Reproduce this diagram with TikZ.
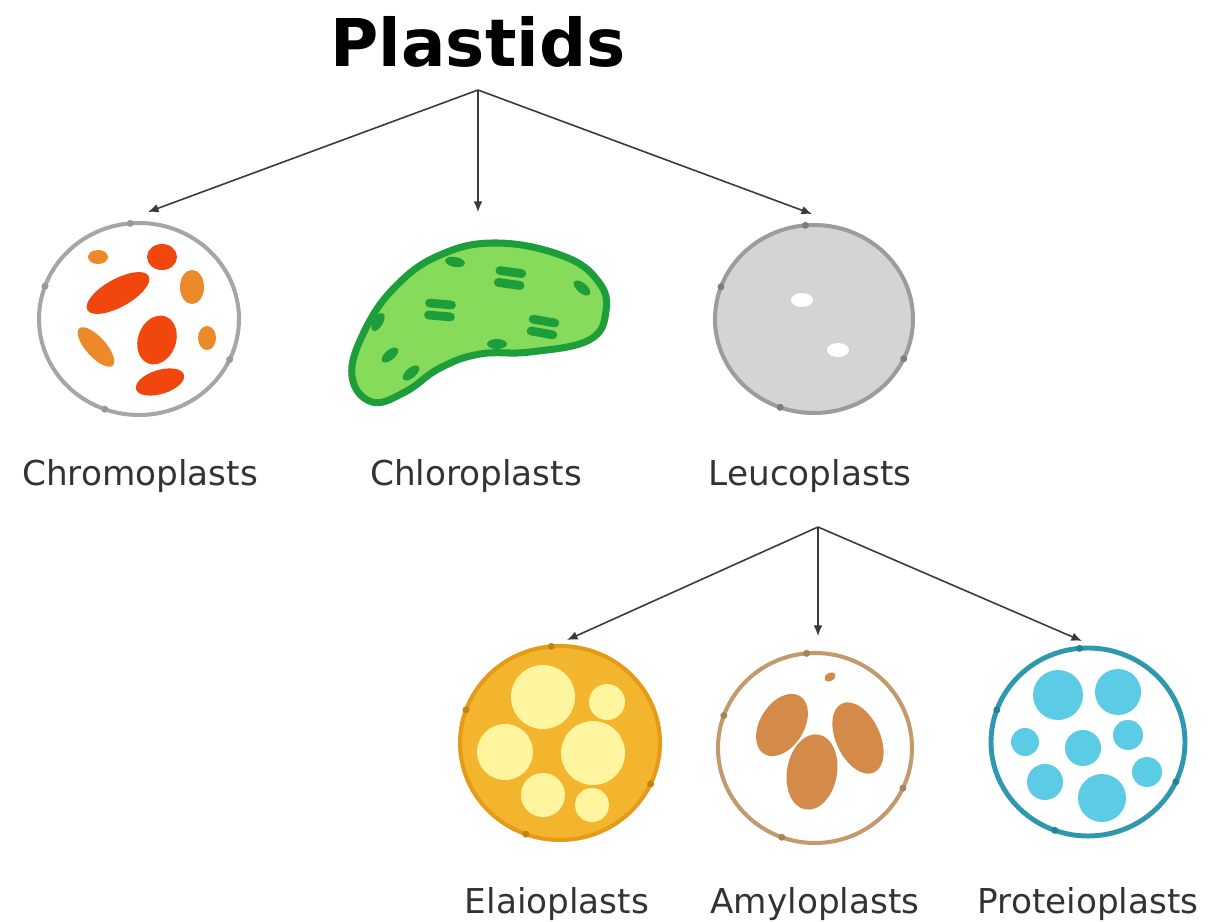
\documentclass[tikz,border=0pt]{standalone}
\usepackage{fontspec}
\setmainfont{DejaVu Sans}
\usetikzlibrary{arrows.meta}

\begin{document}
\begin{tikzpicture}[x=0.02cm, y=-0.02cm]
    % Define colours
    \definecolor{textColour}{HTML}{333333}
    \definecolor{arrowColour}{HTML}{3A3A3A}
    \definecolor{chromoRed}{HTML}{F2460F}
    \definecolor{chromoOrange}{HTML}{EC8A2A}
    \definecolor{chloroFill}{HTML}{86DB5A}
    \definecolor{chloroDark}{HTML}{1E9E3A}
    \definecolor{leucoFill}{HTML}{D4D4D4}
    \definecolor{leucoBorder}{HTML}{9C9C9C}
    \definecolor{elaioFill}{HTML}{F4B52E}
    \definecolor{elaioBorder}{HTML}{E59A18}
    \definecolor{elaioDrop}{HTML}{FFF59E}
    \definecolor{amyloBorder}{HTML}{C49A6C}
    \definecolor{amyloStarch}{HTML}{D48A48}
    \definecolor{proteoBorder}{HTML}{2E98AE}
    \definecolor{proteoBody}{HTML}{5CCBE6}

    \tikzset{
        branch/.style={draw=arrowColour, line width=0.9pt, -{Latex[length=6pt,width=5pt]}},
        plastidName/.style={text=textColour, font=\fontsize{19.5}{22}\selectfont, anchor=base},
        membrane/.style={line width=2.3pt}
    }

    % Fix the page size
    \useasboundingbox[fill=white] (0,0) rectangle (1225,922);

    % Title and branch points
    \node[anchor=base, font=\fontsize{37.5}{40}\selectfont\bfseries] (title) at (478,67) {Plastids};
    \coordinate (root) at (478,90);
    \coordinate (leucoRoot) at (818,527);

    % Arrow ends at the top of each plastid
    \coordinate (chromoTop) at (148,212);
    \coordinate (chloroTop) at (478,212);
    \coordinate (leucoTop) at (812,214);
    \coordinate (elaioTop) at (567,640);
    \coordinate (amyloTop) at (818,636);
    \coordinate (proteoTop) at (1082,641);

    % Draw branches
    \foreach \target in {chromoTop, chloroTop, leucoTop}
        \draw[branch] (root) -- (\target);
    \foreach \target in {elaioTop, amyloTop, proteoTop}
        \draw[branch] (leucoRoot) -- (\target);

    % Chromoplast
    \coordinate (chromo) at (139,319);
    \draw[membrane, draw=gray!70, fill=white] (chromo) ellipse (100 and 96);
    \fill[chromoOrange] (98,257) ellipse (10 and 7);
    \fill[chromoRed] (162,257) ellipse (15 and 13);
    \fill[chromoRed, rotate around={29:(118,293)}] (118,293) ellipse (35 and 14);
    \fill[chromoOrange] (192,287) ellipse (12 and 17);
    \fill[chromoRed, rotate around={70:(157,340)}] (157,340) ellipse (25 and 19);
    \fill[chromoOrange, rotate around={-48:(96,347)}] (96,347) ellipse (25 and 10);
    \fill[chromoOrange] (207,338) ellipse (9 and 12);
    \fill[chromoRed, rotate around={17:(160,382)}] (160,382) ellipse (25 and 12);

    % Chloroplast
    \draw[line width=4pt, draw=chloroDark, fill=chloroFill] plot[smooth cycle, tension=0.7] coordinates {
        (352,376) (364,332) (395,287) (440,255) (497,243) (563,256) (598,281) (606,311)
        (589,340) (530,352) (480,354) (440,368) (405,392) (372,402)};
    % Grana stacks
    \foreach \x/\y/\a in {510/278/-8, 440/310/-5, 543/327/-10}{
        \draw[chloroDark, line width=5pt, line cap=round, rotate around={\a:(\x,\y)}]
            (\x-11,\y-6) -- (\x+11,\y-6) (\x-11,\y+6) -- (\x+11,\y+6);
    }
    \foreach \x/\y/\a in {455/262/-10, 378/322/60, 582/288/-40, 497/344/0, 390/355/40, 411/373/40}
        \fill[chloroDark, rotate around={\a:(\x,\y)}] (\x,\y) ellipse (10 and 5);

    % Leucoplast
    \coordinate (leuco) at (814,319);
    \draw[membrane, draw=leucoBorder, fill=leucoFill] (leuco) ellipse (99 and 94);
    \fill[white] (802,300) ellipse (11 and 7);
    \fill[white] (838,350) ellipse (11 and 7);

    % Elaioplast
    \coordinate (elaio) at (560,743);
    \draw[membrane, draw=elaioBorder, fill=elaioFill] (elaio) ellipse (100 and 97);
    \foreach \x/\y/\r in {543/697/32, 607/702/18, 505/752/28, 593/753/32, 543/795/22, 592/805/17}
        \fill[elaioDrop] (\x,\y) circle (\r);

    % Amyloplast
    \coordinate (amylo) at (815,748);
    \draw[membrane, draw=amyloBorder, fill=white] (amylo) ellipse (97 and 95);
    \fill[amyloStarch, rotate around={58:(782,725)}] (782,725) ellipse (34 and 22);
    \fill[amyloStarch, rotate around={-65:(858,738)}] (858,738) ellipse (38 and 22);
    \fill[amyloStarch, rotate around={80:(812,772)}] (812,772) ellipse (38 and 25);
    \fill[amyloStarch, rotate around={30:(830,677)}] (830,677) ellipse (6 and 4);

    % Proteinoplast
    \coordinate (proteo) at (1088,742);
    \draw[membrane, line width=2.8pt, draw=proteoBorder, fill=white] (proteo) ellipse (97 and 94);
    \foreach \x/\y/\r in {1058/695/25, 1118/692/23, 1025/742/14, 1083/748/18,
                         1128/735/15, 1045/782/18, 1102/798/24, 1147/772/15}
        \fill[proteoBody] (\x,\y) circle (\r);

    % Small notches on the membranes
    \foreach \c/\rx/\ry/\col in {chromo/100/96/gray!80, leuco/99/94/leucoBorder!80!black,
                                 elaio/100/97/elaioBorder!85!black, amylo/97/95/amyloBorder!85!black,
                                 proteo/97/94/proteoBorder!85!black}
        \foreach \a in {-95, -160, 25, 110}
            \fill[\col] ([shift={({\rx*cos(\a)},{\ry*sin(\a)})}]\c) circle (3.5);

    % Labels
    \node[plastidName] (chromoName) at (140,485) {Chromoplasts};
    \node[plastidName] (chloroName) at (476,485) {Chloroplasts};
    \node[plastidName] (leucoName) at (810,485) {Leucoplasts};
    \node[plastidName] (elaioName) at (557,913) {Elaioplasts};
    \node[plastidName] (amyloName) at (815,913) {Amyloplasts};
    \node[plastidName] (proteoName) at (1088,913) {Proteioplasts};
\end{tikzpicture}
\end{document}
